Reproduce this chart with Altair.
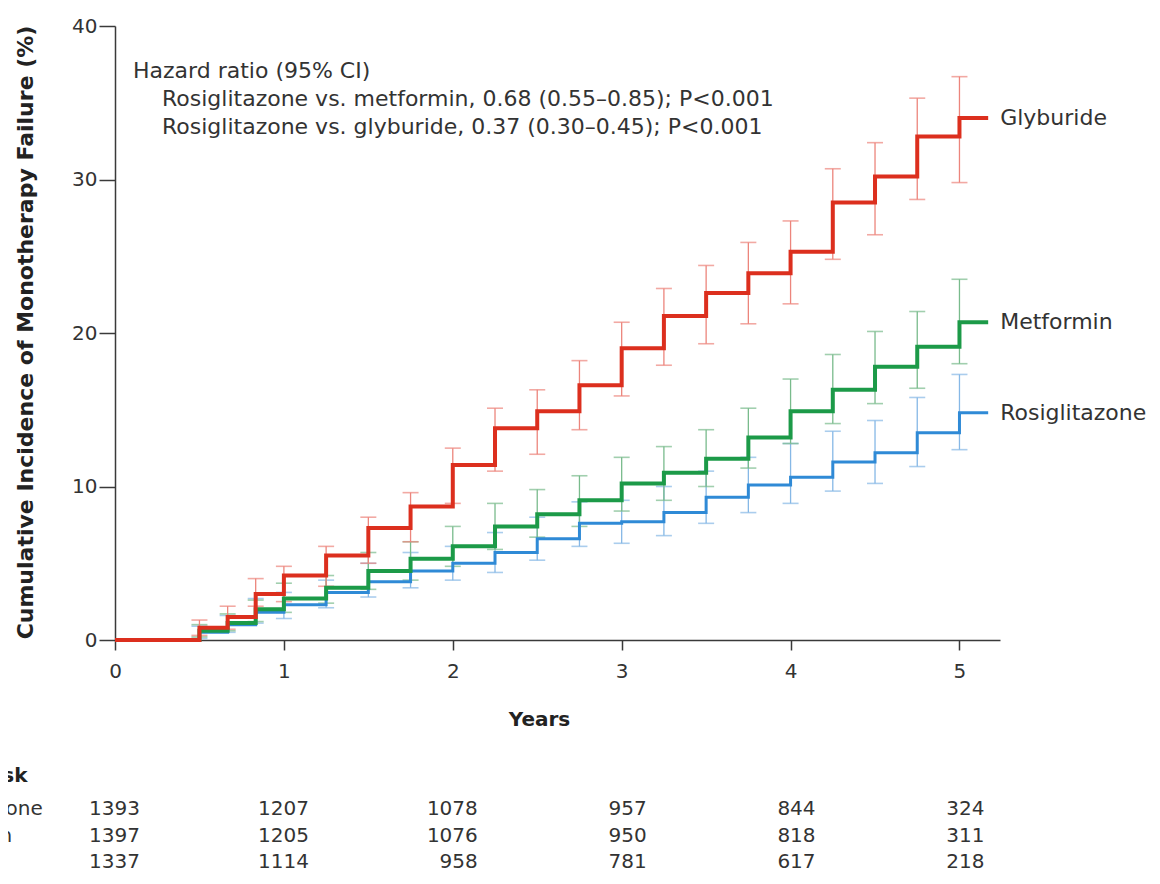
import altair as alt
import pandas as pd

# ---------------- data ----------------
step_times = [0.5, 0.667, 0.833, 1.0, 1.25, 1.5, 1.75, 2.0, 2.25, 2.5, 2.75, 3.0,
              3.25, 3.5, 3.75, 4.0, 4.25, 4.5, 4.75, 5.0]
end_time = 5.17

glyburide = [0.8, 1.5, 3.0, 4.2, 5.5, 7.3, 8.7, 11.4, 13.8, 14.9, 16.6, 19.0,
             21.1, 22.6, 23.9, 25.3, 28.5, 30.2, 32.8, 34.0]
glyburide_lo = [0.3, 0.7, 2.2, 2.5, 3.5, 5.0, 6.4, 8.9, 11.0, 12.1, 13.7, 15.9,
                17.9, 19.3, 20.6, 21.9, 24.8, 26.4, 28.7, 29.8]
glyburide_hi = [1.3, 2.2, 4.0, 4.8, 6.1, 8.0, 9.6, 12.5, 15.1, 16.3, 18.2, 20.7,
                22.9, 24.4, 25.9, 27.3, 30.7, 32.4, 35.3, 36.7]

metformin = [0.6, 1.1, 2.0, 2.7, 3.4, 4.5, 5.3, 6.1, 7.4, 8.2, 9.1, 10.2,
             10.9, 11.8, 13.2, 14.9, 16.3, 17.8, 19.1, 20.7]
metformin_lo = [0.2, 0.6, 1.2, 1.8, 2.4, 3.3, 3.9, 4.8, 5.9, 6.7, 7.4, 8.4,
                9.1, 10.0, 11.2, 12.8, 14.1, 15.4, 16.4, 18.0]
metformin_hi = [1.0, 1.7, 2.6, 3.7, 4.2, 5.7, 6.4, 7.4, 8.9, 9.8, 10.7, 11.9,
                12.6, 13.7, 15.1, 17.0, 18.6, 20.1, 21.4, 23.5]

rosiglitazone = [0.5, 1.0, 1.8, 2.3, 3.1, 3.8, 4.5, 5.0, 5.7, 6.6, 7.6, 7.7,
                 8.3, 9.3, 10.1, 10.6, 11.6, 12.2, 13.5, 14.8]
rosiglitazone_lo = [0.1, 0.5, 1.1, 1.4, 2.1, 2.8, 3.4, 3.9, 4.4, 5.2, 6.1, 6.3,
                    6.8, 7.6, 8.3, 8.9, 9.7, 10.2, 11.3, 12.4]
rosiglitazone_hi = [0.9, 1.6, 2.7, 3.1, 3.9, 5.0, 5.7, 6.1, 7.0, 8.0, 9.0, 9.1,
                    10.0, 11.0, 11.9, 12.8, 13.6, 14.3, 15.8, 17.3]

risk_years = [0, 1, 2, 3, 4, 5]
risk_rosiglitazone = [1393, 1207, 1078, 957, 844, 324]
risk_metformin = [1397, 1205, 1076, 950, 818, 311]
risk_glyburide = [1337, 1114, 958, 781, 617, 218]

annotation_lines = [
    "Hazard ratio (95% CI)",
    "Rosiglitazone vs. metformin, 0.68 (0.55\u20130.85); P<0.001",
    "Rosiglitazone vs. glyburide, 0.37 (0.30\u20130.45); P<0.001",
]

# ---------------- styling ----------------
FONT = "DejaVu Sans"
TXT = "#333333"
series = [
    # name, values, lo, hi, line colour, bar colour, line width, at-risk
    ("Rosiglitazone", rosiglitazone, rosiglitazone_lo, rosiglitazone_hi,
     "#2f8ad6", "#86b8e6", 3.0, risk_rosiglitazone),
    ("Metformin", metformin, metformin_lo, metformin_hi,
     "#1c9a48", "#79bb8c", 4.0, risk_metformin),
    ("Glyburide", glyburide, glyburide_lo, glyburide_hi,
     "#dc2f1e", "#ec857c", 4.0, risk_glyburide),
]

W, H = 885, 614
xs = alt.Scale(domain=[0, 5.24], nice=False, zero=True)
ys = alt.Scale(domain=[0, 40], nice=False)

x_axis = alt.Axis(
    values=[0, 0.5, 1, 1.5, 2, 2.5, 3, 3.5, 4, 4.5, 5],
    format="d",
    labelExpr="datum.value % 1 == 0 ? datum.label : ''",
    title="Years", tickSize=10, labelPadding=11, labelFlush=False,
    labelOverlap=False, labelBound=False,
    titleX=424, titleY=79, titleAlign="center", titleBaseline="middle",
)
y_axis = alt.Axis(
    values=[0, 10, 20, 30, 40], format="d",
    title="Cumulative Incidence of Monotherapy Failure (%)",
    tickSize=16, labelPadding=2, titleFontSize=22,
    titleX=-90, titleY=306, titleAngle=270, titleAlign="center",
    titleBaseline="middle",
)

def X(field):
    return alt.X(field, type="quantitative", scale=xs, axis=x_axis)

def Y(field):
    return alt.Y(field, type="quantitative", scale=ys, axis=y_axis)

bar_layers = []
line_layers = []
label_layers = []
risk_layers = []
risk_rows_y = [789, 816, 842]

for i, (name, vals, lo, hi, col, barcol, lw, risk) in enumerate(series):
    t_full = [0.0] + step_times + [end_time]
    v_full = [0.0] + vals + [vals[-1]]
    df_line = pd.DataFrame({"t": t_full, "v": v_full, "order": range(len(t_full))})
    df_bar = pd.DataFrame({"t": step_times, "lo": lo, "hi": hi})

    bar_layers.append(
        alt.Chart(df_bar).mark_rule(color=barcol, strokeWidth=1.3).encode(
            x=X("t"), y=Y("lo"), y2="hi")
    )
    bar_layers.append(
        alt.Chart(df_bar).mark_tick(color=barcol, orient="horizontal",
                                    size=16, thickness=1.6).encode(
            x=X("t"), y=Y("lo"))
    )
    bar_layers.append(
        alt.Chart(df_bar).mark_tick(color=barcol, orient="horizontal",
                                    size=16, thickness=1.6).encode(
            x=X("t"), y=Y("hi"))
    )
    line_layers.append(
        alt.Chart(df_line).mark_line(color=col, strokeWidth=lw,
                                     interpolate="step-after",
                                     strokeJoin="miter").encode(
            x=X("t"), y=Y("v"), order="order:Q")
    )
    df_lab = pd.DataFrame({"t": [end_time], "v": [vals[-1]], "name": [name]})
    label_layers.append(
        alt.Chart(df_lab).mark_text(align="left", baseline="middle", dx=12,
                                    font=FONT, fontSize=22, color=TXT).encode(
            x=X("t"), y=Y("v"), text="name:N")
    )
    df_risk = pd.DataFrame({"t": risk_years, "n": risk})
    ry = risk_rows_y[i]
    risk_layers.append(
        alt.Chart(df_risk).mark_text(align="right", baseline="alphabetic", dx=25,
                                     font=FONT, fontSize=20, color=TXT).encode(
            x=X("t"), y=alt.value(ry), text="n:Q")
    )
    risk_layers.append(
        alt.Chart(pd.DataFrame({"name": [name]})).mark_text(
            align="left", baseline="alphabetic", font=FONT, fontSize=20,
            color=TXT).encode(x=alt.value(-205), y=alt.value(ry), text="name:N")
    )

header = alt.Chart(pd.DataFrame({"h": ["No. at Risk"]})).mark_text(
    align="left", baseline="alphabetic", font=FONT, fontSize=20,
    fontWeight="bold", color="#222222").encode(
    x=alt.value(-210), y=alt.value(756), text="h:N")

ann_df = pd.DataFrame({
    "line": annotation_lines,
    "px": [18, 47, 47],
    "py": [52, 80, 108],
})
annotation = alt.Chart(ann_df).mark_text(
    align="left", baseline="alphabetic", font=FONT, fontSize=22,
    color=TXT).encode(
    x=alt.X("px:Q", scale=None, axis=None),
    y=alt.Y("py:Q", scale=None, axis=None),
    text="line:N")

chart = alt.layer(
    *bar_layers, *line_layers, *label_layers, *risk_layers, header, annotation
).properties(
    width=W, height=H,
    autosize=alt.AutoSizeParams(type="none"),
    padding={"left": 107, "top": 18, "right": 152, "bottom": 235},
    background="white",
).configure_view(stroke=None).configure_axis(
    grid=False,
    domainColor="#3a3a3a", domainWidth=1.5,
    tickColor="#3a3a3a", tickWidth=1.5,
    labelFont=FONT, labelFontSize=20, labelColor=TXT,
    titleFont=FONT, titleFontSize=20, titleFontWeight="bold", titleColor="#222222",
)

chart.save("out.html", embed_options={"renderer": "svg", "actions": False})
